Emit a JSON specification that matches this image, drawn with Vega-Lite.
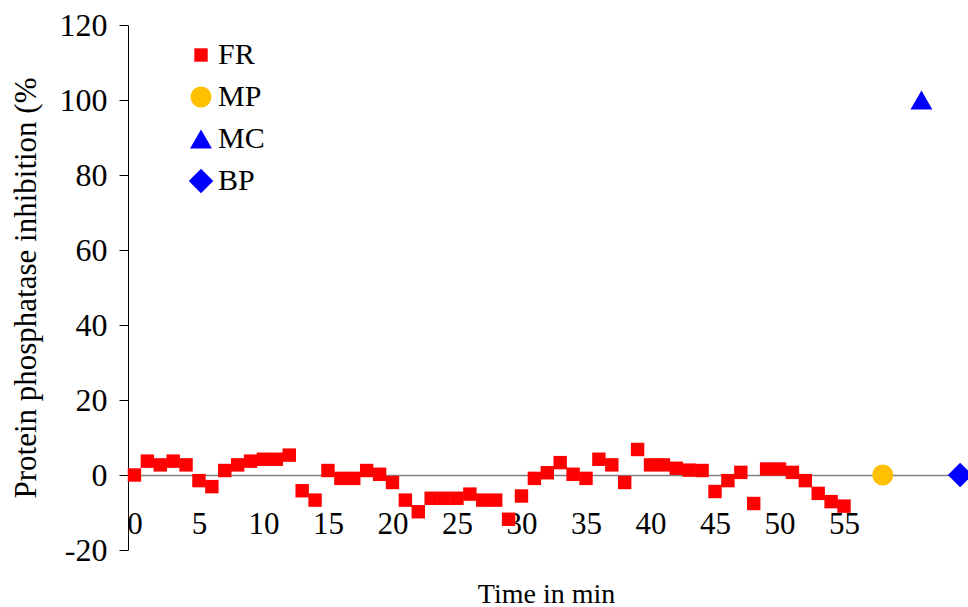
{
  "$schema": "https://vega.github.io/schema/vega-lite/v6.json",
  "width": 836,
  "height": 525,
  "autosize": {"type": "none"},
  "padding": {"left": 128, "top": 25, "right": 4, "bottom": 57},
  "background": "white",
  "config": {
    "view": {"stroke": null},
    "font": "Liberation Serif",
    "axis": {"grid": false}
  },
  "data": {
    "values": [
      {"series": "FR", "t": 0, "v": 0},
      {"series": "FR", "t": 1, "v": 3.7},
      {"series": "FR", "t": 2, "v": 2.7},
      {"series": "FR", "t": 3, "v": 3.7},
      {"series": "FR", "t": 4, "v": 2.7},
      {"series": "FR", "t": 5, "v": -1.5},
      {"series": "FR", "t": 6, "v": -3.1},
      {"series": "FR", "t": 7, "v": 1.2},
      {"series": "FR", "t": 8, "v": 2.7},
      {"series": "FR", "t": 9, "v": 3.7},
      {"series": "FR", "t": 10, "v": 4.2},
      {"series": "FR", "t": 11, "v": 4.2},
      {"series": "FR", "t": 12, "v": 5.3},
      {"series": "FR", "t": 13, "v": -4.2},
      {"series": "FR", "t": 14, "v": -6.7},
      {"series": "FR", "t": 15, "v": 1.2},
      {"series": "FR", "t": 16, "v": -0.9},
      {"series": "FR", "t": 17, "v": -0.9},
      {"series": "FR", "t": 18, "v": 1.2},
      {"series": "FR", "t": 19, "v": 0.2},
      {"series": "FR", "t": 20, "v": -2},
      {"series": "FR", "t": 21, "v": -6.7},
      {"series": "FR", "t": 22, "v": -9.8},
      {"series": "FR", "t": 23, "v": -6.2},
      {"series": "FR", "t": 24, "v": -6.2},
      {"series": "FR", "t": 25, "v": -6.2},
      {"series": "FR", "t": 26, "v": -5.1},
      {"series": "FR", "t": 27, "v": -6.7},
      {"series": "FR", "t": 28, "v": -6.7},
      {"series": "FR", "t": 29, "v": -11.8},
      {"series": "FR", "t": 30, "v": -5.6},
      {"series": "FR", "t": 31, "v": -0.9},
      {"series": "FR", "t": 32, "v": 0.6},
      {"series": "FR", "t": 33, "v": 3.3},
      {"series": "FR", "t": 34, "v": 0.2},
      {"series": "FR", "t": 35, "v": -0.9},
      {"series": "FR", "t": 36, "v": 4.2},
      {"series": "FR", "t": 37, "v": 2.7},
      {"series": "FR", "t": 38, "v": -2},
      {"series": "FR", "t": 39, "v": 6.8},
      {"series": "FR", "t": 40, "v": 2.7},
      {"series": "FR", "t": 41, "v": 2.7},
      {"series": "FR", "t": 42, "v": 1.8},
      {"series": "FR", "t": 43, "v": 1.3},
      {"series": "FR", "t": 44, "v": 1.2},
      {"series": "FR", "t": 45, "v": -4.4},
      {"series": "FR", "t": 46, "v": -1.5},
      {"series": "FR", "t": 47, "v": 0.7},
      {"series": "FR", "t": 48, "v": -7.6},
      {"series": "FR", "t": 49, "v": 1.6},
      {"series": "FR", "t": 50, "v": 1.6},
      {"series": "FR", "t": 51, "v": 0.7},
      {"series": "FR", "t": 52, "v": -1.5},
      {"series": "FR", "t": 53, "v": -4.9},
      {"series": "FR", "t": 54, "v": -7.1},
      {"series": "FR", "t": 55, "v": -8.3},
      {"series": "MP", "t": 58, "v": 0},
      {"series": "MC", "t": 61, "v": 100},
      {"series": "BP", "t": 64, "v": 0}
    ]
  },
  "mark": {"type": "point", "filled": true, "opacity": 1, "strokeWidth": 0},
  "encoding": {
    "x": {
      "field": "t",
      "type": "quantitative",
      "scale": {"domain": [-0.5, 64.3], "nice": false, "zero": false},
      "axis": {
        "title": "Time in min",
        "values": [0, 5, 10, 15, 20, 25, 30, 35, 40, 45, 50, 55],
        "offset": -75,
        "domainColor": "#808080",
        "domainWidth": 1.5,
        "ticks": false,
        "labelFont": "Liberation Serif",
        "labelFontSize": 31,
        "labelColor": "black",
        "labelBaseline": "alphabetic",
        "labelPadding": 58,
        "labelFlush": false,
        "titleFont": "Liberation Serif",
        "titleFontSize": 28,
        "titleFontWeight": "normal",
        "titleColor": "black",
        "titleBaseline": "alphabetic",
        "titleY": 127
      }
    },
    "y": {
      "field": "v",
      "type": "quantitative",
      "scale": {"domain": [-20, 120], "nice": false, "zero": false},
      "axis": {
        "title": "Protein phosphatase inhibition (%",
        "values": [-20, 0, 20, 40, 60, 80, 100, 120],
        "labelExpr": "datum.value < 0 ? '-' + abs(datum.value) : '' + datum.value",
        "domainColor": "black",
        "domainWidth": 1,
        "tickColor": "black",
        "tickSize": 9,
        "labelFont": "Liberation Serif",
        "labelFontSize": 32,
        "labelColor": "black",
        "labelPadding": 12,
        "titleFont": "Liberation Serif",
        "titleFontSize": 31,
        "titleFontWeight": "normal",
        "titleColor": "black",
        "titleX": -102,
        "titleBaseline": "middle"
      }
    },
    "color": {
      "field": "series",
      "type": "nominal",
      "scale": {"domain": ["FR", "MP", "MC", "BP"], "range": ["#FF0000", "#FFC000", "#0000FF", "#0000FF"]},
      "legend": {
        "title": null,
        "orient": "none",
        "legendX": 58,
        "legendY": 15,
        "padding": 0,
        "labelFont": "Liberation Serif",
        "labelFontSize": 30,
        "labelColor": "black",
        "rowPadding": 12,
        "labelOffset": 2,
        "symbolStrokeWidth": 0
      }
    },
    "shape": {
      "field": "series",
      "type": "nominal",
      "scale": {"domain": ["FR", "MP", "MC", "BP"], "range": ["square", "circle", "triangle-up", "diamond"]}
    },
    "size": {
      "field": "series",
      "type": "ordinal",
      "scale": {"type": "ordinal", "domain": ["FR", "MP", "MC", "BP"], "range": [180, 441, 480, 600]}
    }
  }
}
